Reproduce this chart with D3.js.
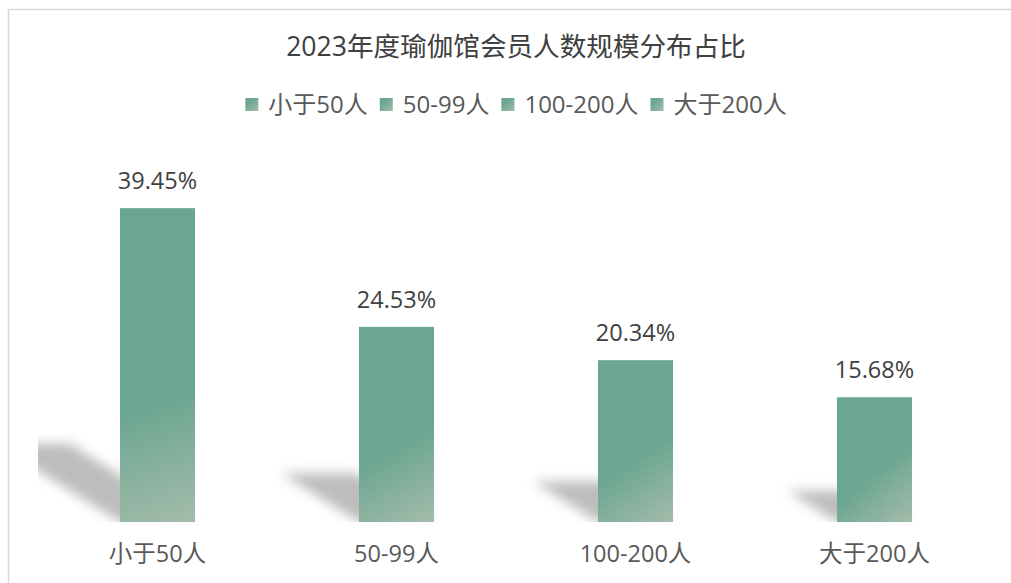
<!DOCTYPE html>
<html>
<head>
<meta charset="utf-8">
<script src="https://cdn.jsdelivr.net/npm/d3@7"></script>
<style>
  html, body { margin: 0; padding: 0; background: #fff; }
  svg { display: block; font-family: "Open Sans", "Noto Sans CJK SC", sans-serif; }
</style>
</head>
<body>
<div id="chart"></div>
<script>
'use strict';

// chart data
var title = '2023年度瑜伽馆会员人数规模分布占比';
var categories = ['小于50人', '50-99人', '100-200人', '大于200人'];
var shares = [39.45, 24.53, 20.34, 15.68];
var valueLabels = ['39.45%', '24.53%', '20.34%', '15.68%'];

var W = 1011, H = 583;
var plot = { left: 38, right: 994, top: 164, bottom: 522 };

var svg = d3.select('#chart').append('svg')
  .attr('width', W)
  .attr('height', H);

var defs = svg.append('defs');

// soft shadow blur
defs.append('filter').attr('id', 'shadowBlur')
  .attr('x', '-40%').attr('y', '-40%').attr('width', '180%').attr('height', '180%')
  .append('feGaussianBlur').attr('stdDeviation', 6);

defs.append('clipPath').attr('id', 'plotClip')
  .append('rect')
  .attr('x', plot.left).attr('y', 0)
  .attr('width', plot.right - plot.left).attr('height', plot.bottom);

// chart area border
svg.append('rect')
  .attr('x', 8.5).attr('y', 9.5)
  .attr('width', W + 20).attr('height', H + 20)
  .attr('fill', '#fff')
  .attr('stroke', '#d9d9d9')
  .attr('stroke-width', 1.5);

var x = d3.scaleBand()
  .domain(categories)
  .range([plot.left, plot.right])
  .paddingInner(0.686)
  .paddingOuter(0.343);

var y = d3.scaleLinear()
  .domain([0, 45])
  .range([plot.bottom, plot.top]);

var dark = '#6aa690', light = '#a4bcab';

// one gradient per bar, light corner at the bottom right
categories.forEach(function (c, i) {
  var x0 = x(c), x1 = x0 + x.bandwidth();
  var top = y(shares[i]), h = plot.bottom - top;
  var g = defs.append('linearGradient')
    .attr('id', 'barGrad' + i)
    .attr('gradientUnits', 'userSpaceOnUse')
    .attr('x1', x0).attr('y1', top + h * 0.3)
    .attr('x2', x1).attr('y2', plot.bottom);
  g.append('stop').attr('offset', 0).attr('stop-color', dark);
  g.append('stop').attr('offset', 0.45).attr('stop-color', dark);
  g.append('stop').attr('offset', 1).attr('stop-color', light);
});

var legGrad = defs.append('linearGradient').attr('id', 'legGrad')
  .attr('x1', 0).attr('y1', 0).attr('x2', 1).attr('y2', 1);
legGrad.append('stop').attr('offset', 0.3).attr('stop-color', dark);
legGrad.append('stop').attr('offset', 1).attr('stop-color', light);

// title
svg.append('text')
  .attr('x', (plot.left + plot.right) / 2)
  .attr('y', 56)
  .attr('text-anchor', 'middle')
  .attr('font-size', 26.6)
  .attr('fill', '#404040')
  .text(title);

// legend, laid out from the measured text widths
var legend = svg.append('g');
var lx = 0, legGap = 12;
categories.forEach(function (c) {
  var item = legend.append('g').attr('transform', 'translate(' + lx + ',0)');
  item.append('rect')
    .attr('x', 0).attr('y', 98)
    .attr('width', 13).attr('height', 13)
    .attr('fill', 'url(#legGrad)');
  var t = item.append('text')
    .attr('x', 23).attr('y', 113)
    .attr('font-size', 24)
    .attr('fill', '#595959')
    .text(c);
  lx += 23 + t.node().getComputedTextLength() + legGap;
});
legend.attr('transform', 'translate(' + ((plot.left + plot.right) / 2 - (lx - legGap) / 2) + ',0)');

// perspective shadows behind the bars
var shadows = svg.append('g').attr('clip-path', 'url(#plotClip)');
shadows.selectAll('polygon')
  .data(categories)
  .join('polygon')
  .attr('points', function (c, i) {
    var x0 = x(c), x1 = x0 + x.bandwidth();
    var h = plot.bottom - y(shares[i]);
    var dx = h * 0.4, dy = h * 0.25;
    return [[x0, plot.bottom], [x0 - dx, plot.bottom - dy], [x1 - dx, plot.bottom - dy], [x1, plot.bottom]]
      .map(function (p) { return p[0] + ',' + p[1]; }).join(' ');
  })
  .attr('fill', '#000')
  .attr('fill-opacity', 0.26)
  .attr('filter', 'url(#shadowBlur)');

// bars
svg.append('g').selectAll('rect')
  .data(categories)
  .join('rect')
  .attr('x', function (c) { return x(c); })
  .attr('y', function (c, i) { return y(shares[i]); })
  .attr('width', x.bandwidth())
  .attr('height', function (c, i) { return plot.bottom - y(shares[i]); })
  .attr('fill', function (c, i) { return 'url(#barGrad' + i + ')'; });

// value labels
svg.append('g').selectAll('text')
  .data(categories)
  .join('text')
  .attr('x', function (c) { return x(c) + x.bandwidth() / 2; })
  .attr('y', function (c, i) { return y(shares[i]) - 19; })
  .attr('text-anchor', 'middle')
  .attr('font-size', 23.5)
  .attr('fill', '#404040')
  .text(function (c, i) { return valueLabels[i]; });

// category axis labels
svg.append('g').selectAll('text')
  .data(categories)
  .join('text')
  .attr('x', function (c) { return x(c) + x.bandwidth() / 2; })
  .attr('y', 562)
  .attr('text-anchor', 'middle')
  .attr('font-size', 23.5)
  .attr('fill', '#595959')
  .text(function (c) { return c; });
</script>
</body>
</html>
